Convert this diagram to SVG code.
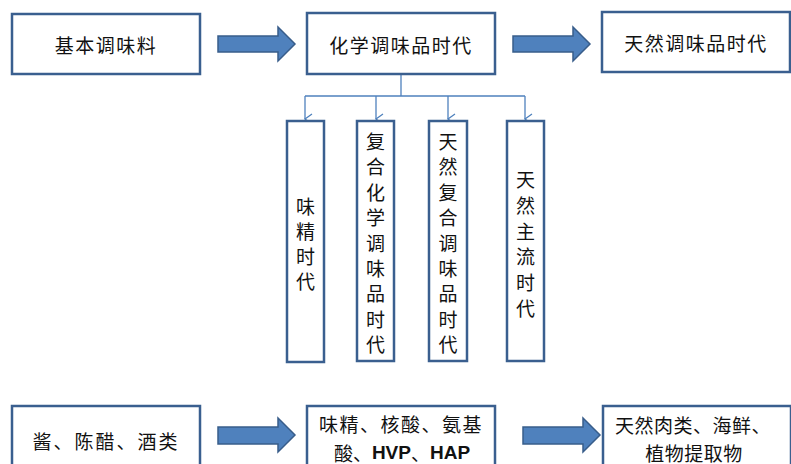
<svg xmlns="http://www.w3.org/2000/svg" width="791" height="464" viewBox="0 0 791 464">
<style>
.box{fill:#fff;stroke:#3A5F8F;stroke-width:2.5}
.arr{fill:#4F81BD;stroke:#385D8A;stroke-width:1.5}
.con{fill:none;stroke:#4F81BD;stroke-width:1.3}
text{font-family:"Noto Sans CJK SC","Noto Sans",sans-serif;font-size:19px;fill:#111;text-anchor:middle;dominant-baseline:central}
.lat{font-family:"Liberation Sans Narrow","Liberation Sans","Noto Sans",sans-serif;font-weight:bold}
</style>
<defs>
<marker id="open" markerWidth="12" markerHeight="12" refX="6" refY="10" orient="auto" markerUnits="userSpaceOnUse" viewBox="0 0 12 12">
<path d="M1,3 L6,10 L11,3" fill="none" stroke="#4F81BD" stroke-width="1.3"/>
</marker>
</defs>
<rect width="791" height="464" fill="#fff"/>
<g id="connectors">
<polygon class="arr" points="218,36 278,36 278,27 295,44 278,61 278,52 218,52"/>
<polygon class="arr" points="513,36 573,36 573,27 590,44 573,61 573,52 513,52"/>
<polygon class="arr" points="218,427 278,427 278,418 295,435 278,452 278,444 218,444"/>
<polygon class="arr" points="523,427 583,427 583,418 600,435 583,452 583,444 523,444"/>
<path class="con" d="M401,74 V96 M305,96 H525"/>
<path class="con" d="M305,96 V119" marker-end="url(#open)"/>
<path class="con" d="M376,96 V119" marker-end="url(#open)"/>
<path class="con" d="M448,96 V119" marker-end="url(#open)"/>
<path class="con" d="M525,96 V119" marker-end="url(#open)"/>
</g>
<g id="n1"><rect class="box" x="12" y="14" width="188" height="60"/><text x="106" y="44" letter-spacing="1.5">基本调味料</text></g>
<g id="n2"><rect class="box" x="307" y="13" width="188" height="61"/><text x="401" y="44" letter-spacing="1.5">化学调味品时代</text></g>
<g id="n3"><rect class="box" x="602" y="12" width="188" height="60"/><text x="696" y="42" letter-spacing="1.5">天然调味品时代</text></g>
<g id="v1"><rect class="box" x="287" y="121" width="37" height="241"/>
<text><tspan x="305.5" y="205">味</tspan><tspan x="305.5" y="230">精</tspan><tspan x="305.5" y="255">时</tspan><tspan x="305.5" y="280">代</tspan></text></g>
<g id="v2"><rect class="box" x="357" y="121" width="37" height="240"/>
<text><tspan x="375.5" y="140">复</tspan><tspan x="375.5" y="165.4">合</tspan><tspan x="375.5" y="190.8">化</tspan><tspan x="375.5" y="216.2">学</tspan><tspan x="375.5" y="241.6">调</tspan><tspan x="375.5" y="267">味</tspan><tspan x="375.5" y="292.4">品</tspan><tspan x="375.5" y="317.8">时</tspan><tspan x="375.5" y="343.2">代</tspan></text></g>
<g id="v3"><rect class="box" x="429" y="121" width="38" height="240"/>
<text><tspan x="448" y="140">天</tspan><tspan x="448" y="165.4">然</tspan><tspan x="448" y="190.8">复</tspan><tspan x="448" y="216.2">合</tspan><tspan x="448" y="241.6">调</tspan><tspan x="448" y="267">味</tspan><tspan x="448" y="292.4">品</tspan><tspan x="448" y="317.8">时</tspan><tspan x="448" y="343.2">代</tspan></text></g>
<g id="v4"><rect class="box" x="507" y="121" width="37" height="240"/>
<text><tspan x="525.5" y="178">天</tspan><tspan x="525.5" y="203.8">然</tspan><tspan x="525.5" y="229.6">主</tspan><tspan x="525.5" y="255.4">流</tspan><tspan x="525.5" y="281.2">时</tspan><tspan x="525.5" y="307">代</tspan></text></g>
<g id="b1"><rect class="box" x="12" y="406" width="188" height="70"/><text x="106" y="440" letter-spacing="2">酱、陈醋、酒类</text></g>
<g id="b2"><rect class="box" x="307" y="406" width="188" height="70"/><text x="401" y="423" letter-spacing="1.5">味精、核酸、氨基</text><text x="402" y="452">酸、<tspan class="lat">HVP</tspan>、<tspan class="lat">HAP</tspan></text></g>
<g id="b3"><rect class="box" x="603" y="406" width="188" height="70"/><text x="693" y="424" letter-spacing="0.5">天然肉类、海鲜、</text><text x="694" y="452" letter-spacing="0.5">植物提取物</text></g>
</svg>
